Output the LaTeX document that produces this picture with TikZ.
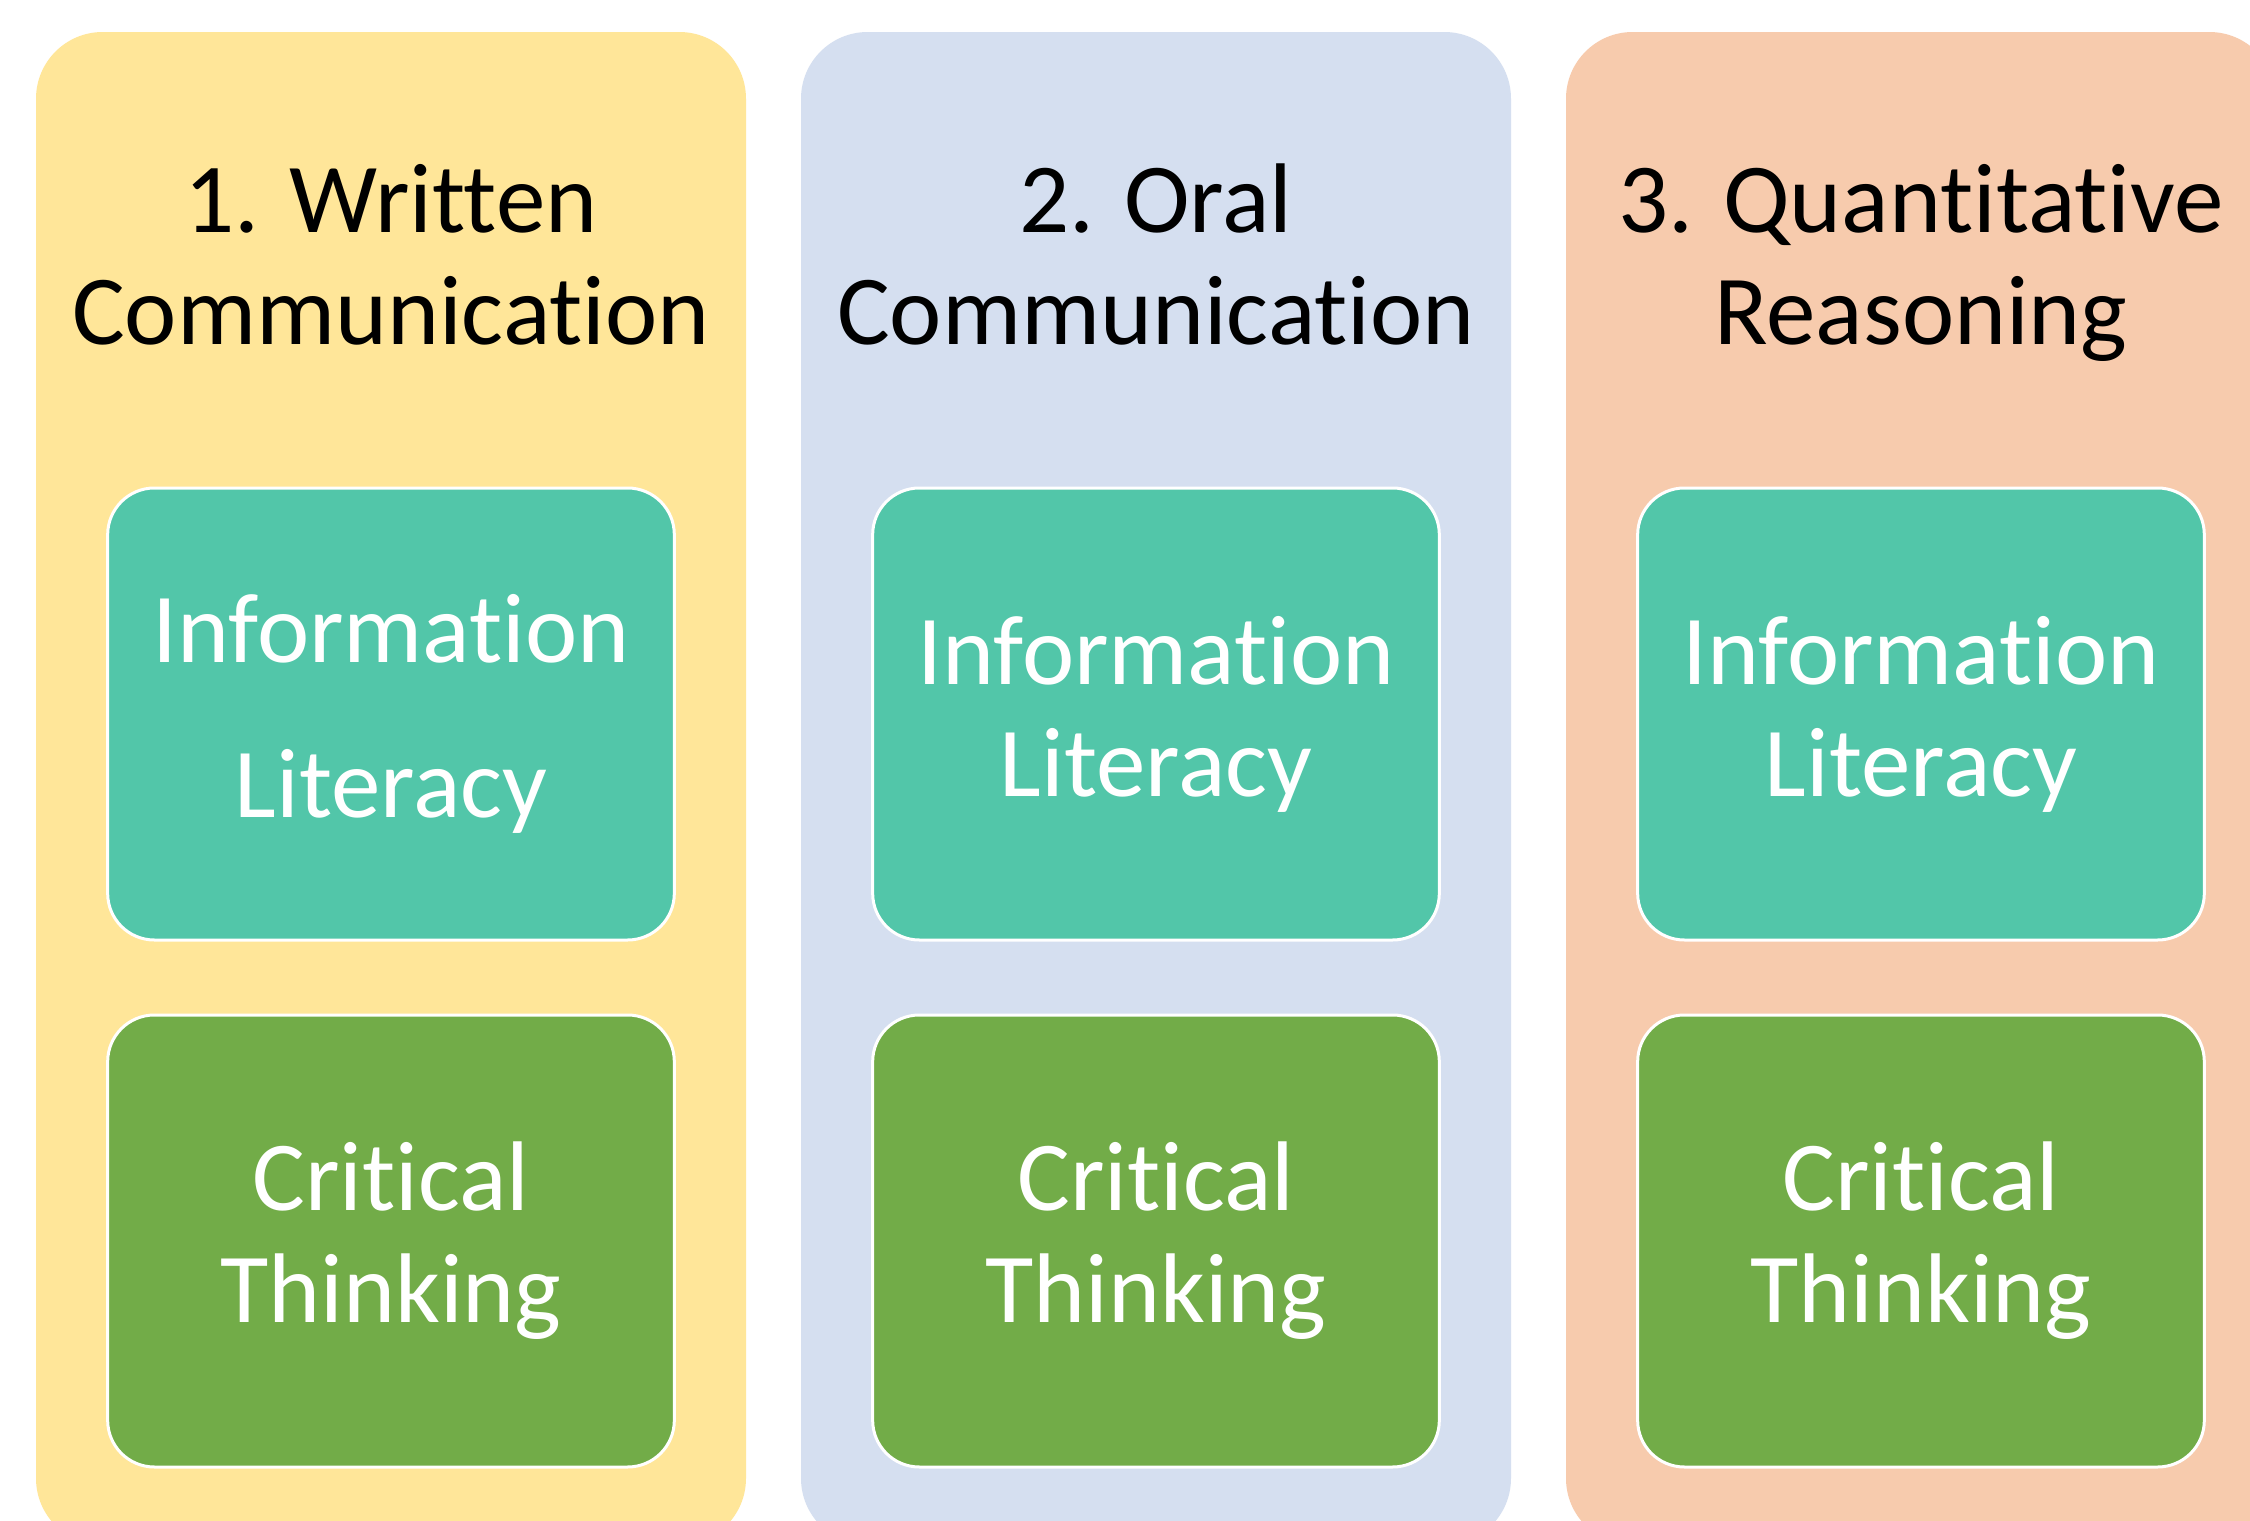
\documentclass[tikz,border=0pt]{standalone}
\usepackage{fontspec}
\setmainfont{Carlito}[Ligatures=NoCommon]
\definecolor{colyellow}{HTML}{FFE699}
\definecolor{colblue}{HTML}{D5DFF0}
\definecolor{colpeach}{HTML}{F7CBAD}
\definecolor{colteal}{HTML}{52C6A9}
\definecolor{colgreen}{HTML}{72AC48}
\tikzset{
  column/.style={rounded corners=20pt},
  title/.style={align=center, anchor=base, font=\fontsize{29.7}{33.6}\selectfont, text=black, inner sep=0pt},
  innerbox/.style={draw=white, line width=0.9pt, rounded corners=14pt, minimum width=170pt, minimum height=135.6pt, align=center, text=white, inner sep=0pt},
  infobox/.style={innerbox, fill=colteal},
  critbox/.style={innerbox, fill=colgreen},
}
\begin{document}
\begin{tikzpicture}[x=0.3pt, y=-0.3pt]
\useasboundingbox (0,0) rectangle (2250,1521);
\clip (0,0) rectangle (2250,1521);
\fill[white] (0,0) rectangle (2250,1521);
% columns
\fill[colyellow, column] (36,32) rectangle (746,1545);
\fill[colblue, column] (801,32) rectangle (1511,1545);
\fill[colpeach, column] (1566,32) rectangle (2276,1545);
% titles (base anchor = baseline of last line)
\node[title] (t1) at (391,344) {1. Written\\Communication};
\node[title] (t2) at (1156,344) {2. Oral\\Communication};
\node[title] (t3) at (1921,344) {3. Quantitative\\Reasoning};
% inner boxes
\node[infobox, font=\fontsize{29.7}{46.5}\selectfont] (i1) at (391,714) {Information\\Literacy};
\node[infobox, font=\fontsize{29.7}{33.6}\selectfont] (i2) at (1156,714) {Information\\Literacy};
\node[infobox, font=\fontsize{29.7}{33.6}\selectfont] (i3) at (1921,714) {Information\\Literacy};
\node[critbox, font=\fontsize{29.7}{33.6}\selectfont] (c1) at (391,1241) {Critical\\Thinking};
\node[critbox, font=\fontsize{29.7}{33.6}\selectfont] (c2) at (1156,1241) {Critical\\Thinking};
\node[critbox, font=\fontsize{29.7}{33.6}\selectfont] (c3) at (1921,1241) {Critical\\Thinking};
\end{tikzpicture}
\end{document}
